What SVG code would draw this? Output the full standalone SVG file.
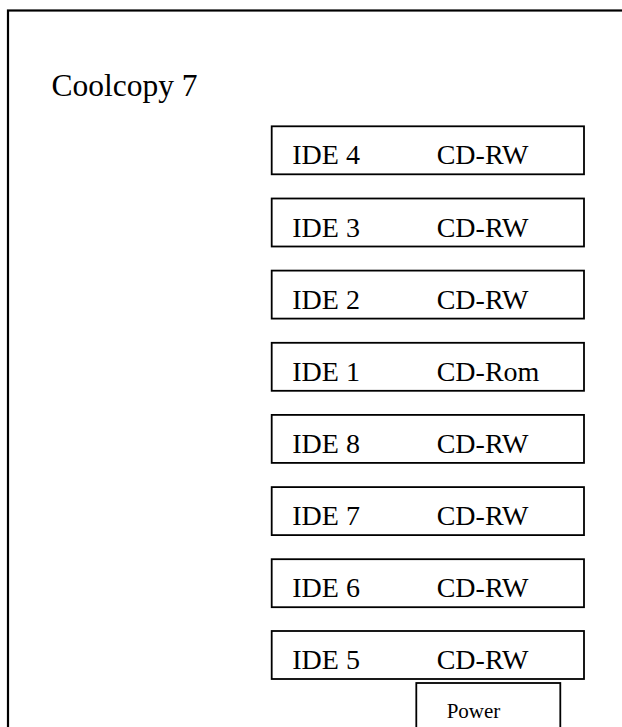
<svg xmlns="http://www.w3.org/2000/svg" width="622" height="727" viewBox="0 0 622 727">
<style>
.frame{fill:none;stroke:#000;stroke-width:2.2}
.box{fill:#fff;stroke:#000;stroke-width:1.8}
.t{font-family:"Liberation Serif","Times New Roman",serif;fill:#000}
.lbl{font-size:28px}
</style>
<rect width="622" height="727" fill="#fff"/>
<rect class="frame" x="8" y="10.5" width="640" height="740"/>
<text class="t" x="51.5" y="96" font-size="31.5">Coolcopy 7</text>
<g id="ide4"><rect class="box" x="271.7" y="126.3" width="312.3" height="48"/><text class="t lbl" x="292.3" y="164.3">IDE 4</text><text class="t lbl" x="436.7" y="164.3">CD-RW</text></g>
<g id="ide3"><rect class="box" x="271.7" y="198.5" width="312.3" height="48"/><text class="t lbl" x="292.3" y="236.5">IDE 3</text><text class="t lbl" x="436.7" y="236.5">CD-RW</text></g>
<g id="ide2"><rect class="box" x="271.7" y="270.6" width="312.3" height="48"/><text class="t lbl" x="292.3" y="308.6">IDE 2</text><text class="t lbl" x="436.7" y="308.6">CD-RW</text></g>
<g id="ide1"><rect class="box" x="271.7" y="342.8" width="312.3" height="48"/><text class="t lbl" x="292.3" y="380.8">IDE 1</text><text class="t lbl" x="436.7" y="380.8">CD-Rom</text></g>
<g id="ide8"><rect class="box" x="271.7" y="414.9" width="312.3" height="48"/><text class="t lbl" x="292.3" y="452.9">IDE 8</text><text class="t lbl" x="436.7" y="452.9">CD-RW</text></g>
<g id="ide7"><rect class="box" x="271.7" y="487.1" width="312.3" height="48"/><text class="t lbl" x="292.3" y="525.1">IDE 7</text><text class="t lbl" x="436.7" y="525.1">CD-RW</text></g>
<g id="ide6"><rect class="box" x="271.7" y="559.2" width="312.3" height="48"/><text class="t lbl" x="292.3" y="597.2">IDE 6</text><text class="t lbl" x="436.7" y="597.2">CD-RW</text></g>
<g id="ide5"><rect class="box" x="271.7" y="631" width="312.3" height="48"/><text class="t lbl" x="292.3" y="669">IDE 5</text><text class="t lbl" x="436.7" y="669">CD-RW</text></g>
<g id="power"><rect class="box" x="416.3" y="683" width="144" height="60"/><text class="t" x="446.7" y="718" font-size="21">Power</text></g>
<g id="connectors"></g>
</svg>
